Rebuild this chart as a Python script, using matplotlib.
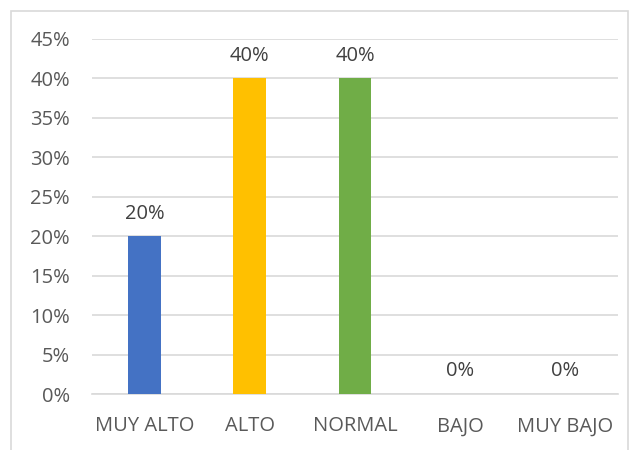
import matplotlib.pyplot as plt
from matplotlib.patches import Rectangle

categories = ['MUY ALTO', 'ALTO', 'NORMAL', 'BAJO', 'MUY BAJO']
values = [20, 40, 40, 0, 0]
colors = ['#4472C4', '#FFC000', '#70AD47', '#A5A5A5', '#5B9BD5']
yticks = [0, 5, 10, 15, 20, 25, 30, 35, 40, 45]

plt.rcParams['font.family'] = ['Open Sans', 'DejaVu Sans']
txt = '#595959'

fig = plt.figure(figsize=(6.33, 4.5), dpi=100)
ax = fig.add_axes([92 / 633, 1 - 394 / 450, 526 / 633, 355 / 450])

x = range(len(categories))
ax.bar(x, values, width=0.31, color=colors, zorder=3)
for i, v in enumerate(values):
    ax.text(i, v + 1.6, '{}%'.format(v), ha='center', va='bottom',
            fontsize=14.5, color='#404040')

ax.set_xlim(-0.5, len(categories) - 0.5)
ax.set_ylim(0, 45)
ax.set_yticks(yticks)
ax.set_yticklabels(['{}%'.format(t) for t in yticks])
ax.set_xticks(list(x))
ax.set_xticklabels(categories)
ax.tick_params(axis='both', length=0, labelsize=14.5, colors=txt)
ax.tick_params(axis='y', pad=16)
ax.tick_params(axis='x', pad=16)
ax.grid(axis='y', color='#D9D9D9', linewidth=1.2, zorder=0)
for s in ['top', 'right', 'left']:
    ax.spines[s].set_visible(False)
ax.spines['bottom'].set_color('#D9D9D9')
ax.spines['bottom'].set_linewidth(1.2)

# chart border, bottom edge runs off the image
fig.patches.append(Rectangle((11 / 633, -0.01), 617 / 633, 1 - 11 / 450 + 0.01,
                             transform=fig.transFigure, fill=False,
                             edgecolor='#D9D9D9', linewidth=1.2))

fig.savefig('out.png', dpi=100)
